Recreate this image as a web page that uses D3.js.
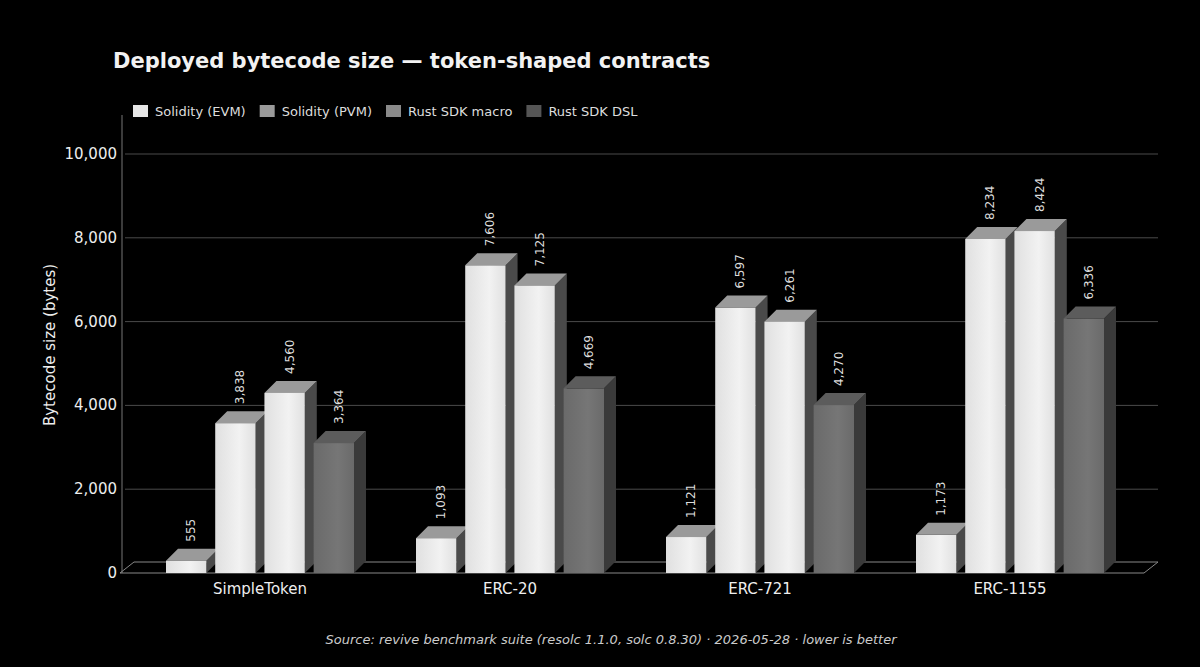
<!DOCTYPE html><html><head><meta charset="utf-8"><script src="https://cdn.jsdelivr.net/npm/d3@7"></script>
<style>body{margin:0;background:#000}svg{display:block;font-family:"DejaVu Sans",sans-serif}</style></head><body><svg id="c" width="1200" height="667"></svg>
<script>
const categories=["SimpleToken","ERC-20","ERC-721","ERC-1155"];
const seriesNames=["Solidity (EVM)","Solidity (PVM)","Rust SDK macro","Rust SDK DSL"];
const evm=[555,1093,1121,1173];
const pvm=[3838,7606,6597,8234];
const macro=[4560,7125,6261,8424];
const dsl=[3364,4669,4270,6336];
const yTicks=[0,2000,4000,6000,8000,10000];
const series=[evm,pvm,macro,dsl];
const legendCol=["#e6e6e6","#9a9a9a","#8a8a8a","#555"];
const front=[["#e0e0e0","#f2f2f2"],["#e0e0e0","#f2f2f2"],["#e0e0e0","#f2f2f2"],["#6a6a6a","#767676"]];
const topC=["#9a9a9a","#9a9a9a","#9a9a9a","#5c5c5c"];
const sideC=["#4a4a4a","#4a4a4a","#4a4a4a","#3a3a3a"];
const svg=d3.select("#c");
const D=12;
const x0=d3.scaleBand().domain(categories).range([135,1135]);
const x1=d3.scaleBand().domain(d3.range(4)).range([0,188]).paddingInner(0.18);
const y=d3.scaleLinear().domain([0,10000]).range([573,154]);
const defs=svg.append("defs");
front.forEach((c,i)=>{const g=defs.append("linearGradient").attr("id","g"+i);g.append("stop").attr("offset","0").attr("stop-color",c[0]);g.append("stop").attr("offset","0.6").attr("stop-color",c[1]);g.append("stop").attr("offset","1").attr("stop-color",c[0]);});
svg.append("text").attr("x",113).attr("y",68).attr("fill","#f2f2f2").attr("font-size",21).attr("font-weight","bold").text("Deployed bytecode size — token-shaped contracts");
svg.append("g").selectAll("line").data(yTicks.slice(1)).join("line").attr("x1",125).attr("x2",1158).attr("y1",d=>y(d)).attr("y2",d=>y(d)).attr("stroke","#4a4a4a");
svg.append("g").selectAll("text").data(yTicks).join("text").attr("x",117).attr("y",d=>y(d)+5).attr("text-anchor","end").attr("fill","#eee").attr("font-size",15).text(d=>d3.format(",")(d));
svg.append("line").attr("x1",122).attr("x2",122).attr("y1",115).attr("y2",573).attr("stroke","#777");
svg.append("path").attr("d",`M120,573L134,562L1158,562L1144,573Z`).attr("fill","none").attr("stroke","#888");
svg.append("text").attr("transform","translate(55,345) rotate(-90)").attr("text-anchor","middle").attr("fill","#eee").attr("font-size",15).text("Bytecode size (bytes)");
categories.forEach((c,ci)=>{
 const gx=x0(c)+(x0.bandwidth()-188)/2;
 series.forEach((s,si)=>{
  const v=s[ci],bx=gx+x1(si),w=x1.bandwidth(),yt=y(v)+D-1,yb=y(0);
  const g=svg.append("g");
  g.append("path").attr("d",`M${bx+w},${yt}L${bx+w+D},${yt-D}L${bx+w+D},${yb-D}L${bx+w},${yb}Z`).attr("fill",sideC[si]);
  g.append("path").attr("d",`M${bx},${yt}L${bx+D},${yt-D}L${bx+w+D},${yt-D}L${bx+w},${yt}Z`).attr("fill",topC[si]);
  g.append("rect").attr("x",bx).attr("y",yt).attr("width",w).attr("height",yb-yt).attr("fill",`url(#g${si})`);
  const lx=bx+w/2+9,ly=y(v)-8;
  g.append("text").attr("transform",`translate(${lx},${ly}) rotate(-90)`).attr("fill","#ddd").attr("font-size",12).text(d3.format(",")(v));
 });
 svg.append("text").attr("x",x0(c)+x0.bandwidth()/2).attr("y",594).attr("text-anchor","middle").attr("fill","#eee").attr("font-size",15).text(c);
});
let lx=133;
seriesNames.forEach((n,i)=>{
 svg.append("rect").attr("x",lx).attr("y",105).attr("width",15).attr("height",12).attr("fill",legendCol[i]);
 const t=svg.append("text").attr("x",lx+22).attr("y",116).attr("fill","#ddd").attr("font-size",13).text(n);
 lx+=22+t.node().getComputedTextLength()+14;
});
svg.append("text").attr("x",611).attr("y",644).attr("text-anchor","middle").attr("fill","#ccc").attr("font-size",13).attr("font-style","italic").text("Source: revive benchmark suite (resolc 1.1.0, solc 0.8.30) · 2026-05-28 · lower is better");
</script></body></html>
